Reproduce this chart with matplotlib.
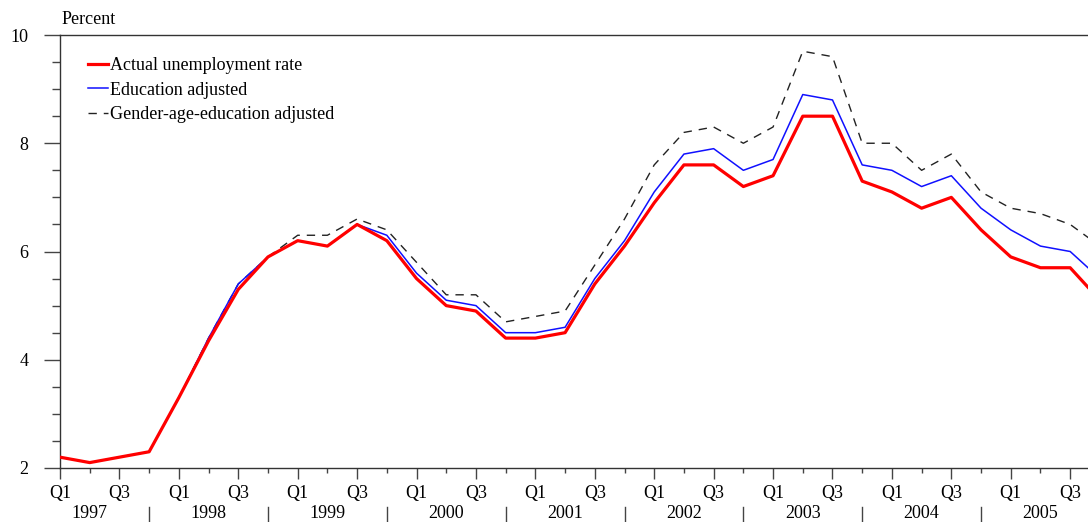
import matplotlib.pyplot as plt
from matplotlib.ticker import MultipleLocator, FixedLocator, NullFormatter, FixedFormatter

# Quarterly data 1997Q1 - 2005Q4
years = [1997, 1998, 1999, 2000, 2001, 2002, 2003, 2004, 2005]
actual = [2.2, 2.1, 2.2, 2.3, 3.3, 4.35, 5.3, 5.9,
          6.2, 6.1, 6.5, 6.2, 5.5, 5.0, 4.9, 4.4,
          4.4, 4.5, 5.4, 6.1, 6.9, 7.6, 7.6, 7.2,
          7.4, 8.5, 8.5, 7.3, 7.1, 6.8, 7.0, 6.4,
          5.9, 5.7, 5.7, 5.1]
edu_adj = [2.2, 2.1, 2.2, 2.3, 3.3, 4.4, 5.4, 5.9,
           6.2, 6.1, 6.5, 6.3, 5.6, 5.1, 5.0, 4.5,
           4.5, 4.6, 5.5, 6.2, 7.1, 7.8, 7.9, 7.5,
           7.7, 8.9, 8.8, 7.6, 7.5, 7.2, 7.4, 6.8,
           6.4, 6.1, 6.0, 5.5]
gae_adj = [2.2, 2.1, 2.2, 2.3, 3.3, 4.4, 5.4, 5.9,
           6.3, 6.3, 6.6, 6.4, 5.8, 5.2, 5.2, 4.7,
           4.8, 4.9, 5.75, 6.6, 7.6, 8.2, 8.3, 8.0,
           8.3, 9.7, 9.6, 8.0, 8.0, 7.5, 7.8, 7.1,
           6.8, 6.7, 6.5, 6.1]
labels = ["Actual unemployment rate", "Education adjusted", "Gender-age-education adjusted"]

plt.rcParams['font.family'] = ['Liberation Serif', 'DejaVu Serif']
plt.rcParams['font.size'] = 13

fig = plt.figure(figsize=(10.88, 5.22), dpi=100)
ax = fig.add_axes([60 / 1088, 54 / 522, 1028 / 1088, 433 / 522])

x = list(range(len(actual)))
ax.plot(x, gae_adj, color='#222222', lw=1.0, dashes=(6, 5), label=labels[2], zorder=2)
ax.plot(x, edu_adj, color='#1010ff', lw=1.1, label=labels[1], zorder=3)
ax.plot(x, actual, color='#ff0000', lw=2.3, label=labels[0], zorder=4)

ax.set_xlim(0, 34.6)
ax.set_ylim(2, 10)

# spines
ax.spines['right'].set_visible(False)
for s in ['left', 'top', 'bottom']:
    ax.spines[s].set_color('#333333')
    ax.spines[s].set_linewidth(1.0)

# y ticks
ax.yaxis.set_major_locator(MultipleLocator(2))
ax.yaxis.set_minor_locator(MultipleLocator(0.5))
ax.tick_params(axis='y', which='major', direction='out', length=11.5, width=1.0,
               color='#444444', pad=11, labelsize=13)
ax.tick_params(axis='y', which='minor', direction='out', length=6, width=1.0, color='#444444')

# x ticks: Q1/Q3 labelled, Q2/Q4 minor
major_x = [i for i in x if i % 2 == 0]
minor_x = [i for i in x if i % 2 == 1]
ax.xaxis.set_major_locator(FixedLocator(major_x))
ax.xaxis.set_major_formatter(FixedFormatter(['Q1' if i % 4 == 0 else 'Q3' for i in major_x]))
ax.xaxis.set_minor_locator(FixedLocator(minor_x))
ax.xaxis.set_minor_formatter(NullFormatter())
ax.tick_params(axis='x', which='major', direction='out', length=8, width=1.0,
               color='#444444', pad=4, labelsize=13)
ax.tick_params(axis='x', which='minor', direction='out', length=3.6, width=1.0, color='#444444')

# year labels and separators
trans = ax.get_xaxis_transform()
for k, yr in enumerate(years):
    ax.text(4 * k + 1, -0.106, str(yr), transform=trans, ha='center', va='center',
            fontsize=13, clip_on=False)
    sep = 4 * k + 3
    if sep < 34.6:
        ax.plot([sep, sep], [-0.090, -0.13], transform=trans, color='#444444',
                lw=1.0, clip_on=False)

fig.text(62 / 1088, 1 - 19 / 522, "Percent", ha='left', va='center', fontsize=13)

handles, labs = ax.get_legend_handles_labels()
order = [2, 1, 0]
leg = ax.legend([handles[i] for i in order], [labs[i] for i in order],
                loc='upper left', bbox_to_anchor=(0.020, 0.965), frameon=False,
                handlelength=1.1, handletextpad=0.12, labelspacing=0.4, fontsize=13,
                borderaxespad=0)
leg.legend_handles[0].set_linewidth(2.3)

fig.savefig('out.png', dpi=100)
